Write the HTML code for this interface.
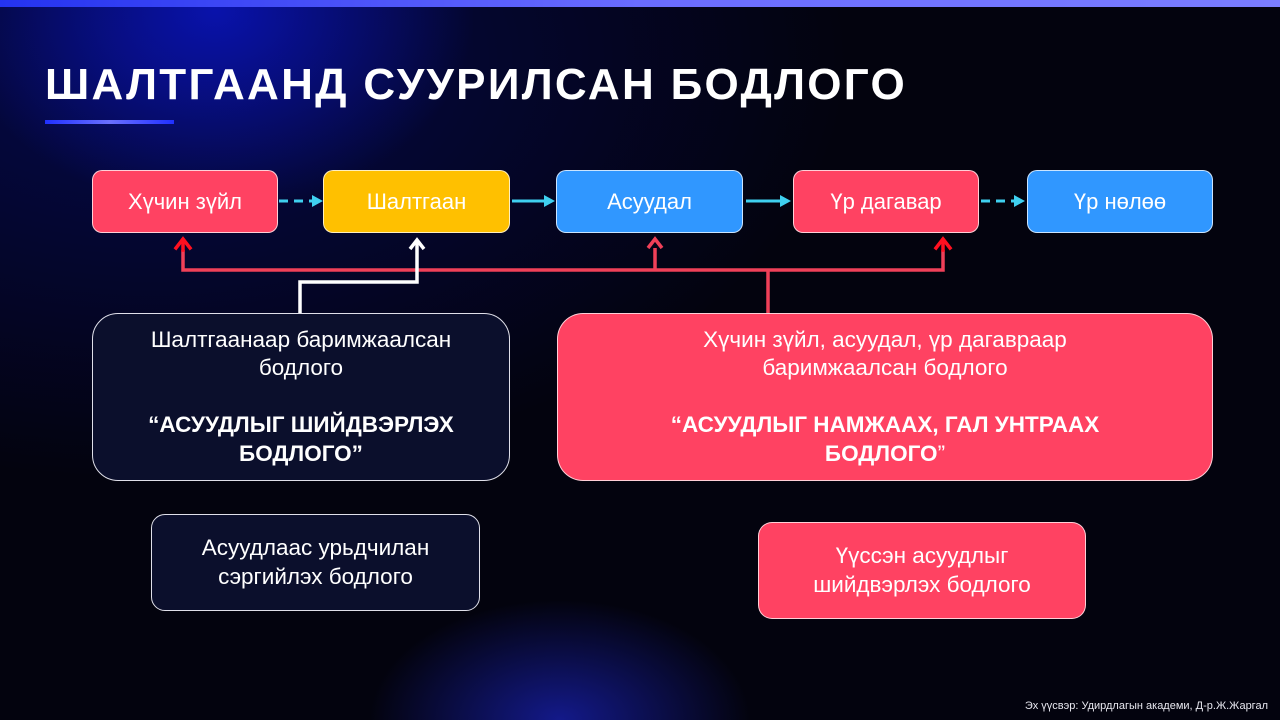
<!DOCTYPE html>
<html><head><meta charset="utf-8"><style>
*{margin:0;padding:0;box-sizing:border-box}
body{width:1280px;height:720px;overflow:hidden;position:relative;font-family:"Liberation Sans","DejaVu Sans",sans-serif;color:#fff;
background:
radial-gradient(ellipse 260px 200px at 215px 10px,rgba(10,20,190,.85),rgba(10,20,190,0) 100%),
radial-gradient(ellipse 190px 120px at 560px 720px,rgba(30,40,220,.6),rgba(30,40,220,0) 100%),
radial-gradient(ellipse 700px 420px at 150px 60px,rgba(5,10,90,.8),rgba(5,10,90,0) 100%),
#03030e;}
.top{position:absolute;left:0;top:0;width:1280px;height:7px;background:linear-gradient(90deg,#2433f0,#6a6cff 50%,#7a7dff)}
h1{position:absolute;left:45px;top:60px;font-size:44px;font-weight:bold;letter-spacing:2.3px;white-space:nowrap}
.ul{position:absolute;left:45px;top:120px;width:129px;height:4px;background:linear-gradient(90deg,#2030ff,#6a70ff 50%,#2030ff)}
.b{position:absolute;border:1px solid rgba(255,255,255,.75);border-radius:10px;display:flex;align-items:center;justify-content:center;font-size:22px;text-align:center}
.r{background:#ff4262}.y{background:#ffc000}.bl{background:#3097ff}
.d{background:#0b0f2c;border:1px solid #e0e0ea}
.big{border-radius:26px;font-size:22.5px;line-height:28.5px;flex-direction:column}
.src{position:absolute;right:12px;top:700px;font-size:11px;color:#e8e8f0}
</style></head><body>
<div class="top"></div>
<h1>ШАЛТГААНД СУУРИЛСАН БОДЛОГО</h1>
<div class="ul"></div>
<div class="b r" style="left:92px;top:170px;width:186px;height:63px">Хүчин зүйл</div>
<div class="b y" style="left:323px;top:170px;width:187px;height:63px">Шалтгаан</div>
<div class="b bl" style="left:556px;top:170px;width:187px;height:63px">Асуудал</div>
<div class="b r" style="left:793px;top:170px;width:186px;height:63px">Үр дагавар</div>
<div class="b bl" style="left:1027px;top:170px;width:186px;height:63px">Үр нөлөө</div>
<svg style="position:absolute;left:0;top:0" width="1280" height="720">
<g stroke="#3fd0f0" stroke-width="3" fill="none">
<line x1="279" y1="201" x2="312" y2="201" stroke-dasharray="9 6"/>
<line x1="512" y1="201" x2="544" y2="201"/>
<line x1="746" y1="201" x2="780" y2="201"/>
<line x1="981" y1="201" x2="1014" y2="201" stroke-dasharray="9 6"/>
</g>
<g fill="#3fd0f0">
<polygon points="312,195 323,201 312,207"/>
<polygon points="544,195 555,201 544,207"/>
<polygon points="780,195 791,201 780,207"/>
<polygon points="1014,195 1025,201 1014,207"/>
</g>
<g stroke="#f04058" stroke-width="3.5" fill="none">
<polyline points="183,250 183,270 943,270 943,250"/>
<line x1="655" y1="270" x2="655" y2="248"/>
<line x1="768" y1="270" x2="768" y2="313"/>
</g>
<g stroke="#ff1020" stroke-width="3.5" fill="none" stroke-linecap="square">
<line x1="183" y1="250" x2="183" y2="240"/><polyline points="176,248 183,239 190,248"/>
<line x1="943" y1="250" x2="943" y2="240"/><polyline points="936,248 943,239 950,248"/>
</g>
<g stroke="#f04058" stroke-width="3.5" fill="none"><polyline points="648,248 655,239 662,248"/></g>
<g stroke="#fff" stroke-width="3.5" fill="none">
<polyline points="300,313 300,282 417,282 417,240"/>
<polyline points="410,249 417,240 424,249"/>
</g>
</svg>
<div class="b d big" style="left:92px;top:313px;width:418px;height:168px">
<div>Шалтгаанаар баримжаалсан<br>бодлого<br>&nbsp;<br><b>“АСУУДЛЫГ ШИЙДВЭРЛЭХ<br>БОДЛОГО”</b></div></div>
<div class="b r big" style="left:557px;top:313px;width:656px;height:168px">
<div>Хүчин зүйл, асуудал, үр дагавраар<br>баримжаалсан бодлого<br>&nbsp;<br><b>“АСУУДЛЫГ НАМЖААХ, ГАЛ УНТРААХ<br>БОДЛОГО</b>”</div></div>
<div class="b d big" style="left:151px;top:514px;width:329px;height:97px;border-radius:14px"><div>Асуудлаас урьдчилан<br>сэргийлэх бодлого</div></div>
<div class="b r big" style="left:758px;top:522px;width:328px;height:97px;border-radius:14px"><div>Үүссэн асуудлыг<br>шийдвэрлэх бодлого</div></div>
<div class="src">Эх үүсвэр: Удирдлагын академи, Д-р.Ж.Жаргал</div>
</body></html>
